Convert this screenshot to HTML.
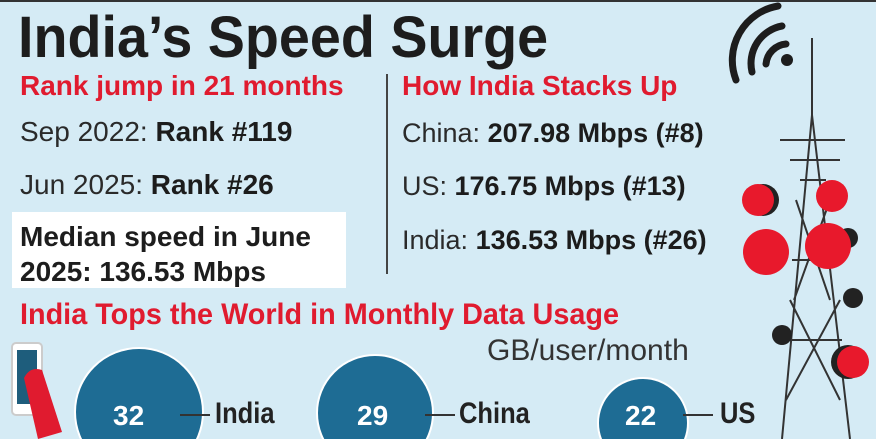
<!DOCTYPE html>
<html><head><meta charset="utf-8"><style>
html,body{margin:0;width:876px;height:439px;overflow:hidden}
body{background:#d5ebf5;font-family:"Liberation Sans",sans-serif}
#w{position:relative;width:876px;height:439px;overflow:hidden}
.a{position:absolute;white-space:nowrap;transform-origin:left top;line-height:1}
.r{color:#e01b2f;font-weight:bold;font-size:28px}
.t{color:#2a2a2a;font-size:27px}
.t b{color:#1c1c1c}
.n{position:absolute;color:#fff;font-weight:bold;font-size:28px}
.lb{position:absolute;color:#222;font-size:30px;font-weight:bold;transform:scaleX(.85);transform-origin:left top}
.dash{position:absolute;height:2px;background:#333}
</style></head><body><div id="w">
<svg style="position:absolute;left:0;top:0" width="876" height="439">
<g fill="#1e6c94" stroke="#fff" stroke-width="2">
<circle cx="139" cy="412" r="64"/>
<circle cx="375" cy="413" r="58"/>
<circle cx="643" cy="423" r="45"/>
</g>
<rect x="12" y="343" width="30" height="72" rx="4" fill="#fff" stroke="#ccc" stroke-width="2"/>
<rect x="17" y="350" width="20" height="54" fill="#1e5d7c"/>
<path d="M24 378 Q30 366 42 370 L62 432 L38 439 Z" fill="#e01b2f"/>
</svg>
<div style="position:absolute;left:0;top:0;width:876px;height:2px;background:#333"></div>
<div class="a" style="left:18px;top:9px;font-size:58px;font-weight:bold;color:#1d1d1d;transform:scaleX(.96)">India’s Speed Surge</div>
<div class="a r" style="left:20px;top:72px">Rank jump in 21 months</div>
<div class="a t" style="left:20px;top:118px;font-size:28px">Sep 2022: <b>Rank #119</b></div>
<div class="a t" style="left:20px;top:171px;font-size:28px">Jun 2025: <b>Rank #26</b></div>
<div style="position:absolute;left:12px;top:212px;width:334px;height:76px;background:#fff"></div>
<div class="a" style="left:20px;top:219px;font-size:28px;font-weight:bold;color:#1d1d1d;line-height:35px">Median speed in June<br>2025: 136.53 Mbps</div>
<div style="position:absolute;left:386px;top:74px;width:2px;height:200px;background:#444"></div>
<div class="a r" style="left:402px;top:72px">How India Stacks Up</div>
<div class="a t" style="left:402px;top:120px">China: <b>207.98 Mbps (#8)</b></div>
<div class="a t" style="left:402px;top:173px">US: <b>176.75 Mbps (#13)</b></div>
<div class="a t" style="left:402px;top:227px">India: <b>136.53 Mbps (#26)</b></div>
<div class="a r" style="left:20px;top:300px;font-size:30px;transform:scaleX(.96)">India Tops the World in Monthly Data Usage</div>
<div class="a" style="left:487px;top:336px;font-size:30px;color:#333">GB/user/month</div>
<div class="n" style="left:113px;top:400px">32</div>
<div class="dash" style="left:180px;top:414px;width:30px"></div>
<div class="lb" style="left:215px;top:397px">India</div>
<div class="n" style="left:357px;top:400px">29</div>
<div class="dash" style="left:425px;top:414px;width:30px"></div>
<div class="lb" style="left:459px;top:397px">China</div>
<div class="n" style="left:625px;top:400px">22</div>
<div class="dash" style="left:683px;top:414px;width:30px"></div>
<div class="lb" style="left:720px;top:397px">US</div>
<svg style="position:absolute;left:700px;top:0" width="176" height="439">
<g fill="none" stroke="#1d1d1d" stroke-width="7" stroke-linecap="round">
<path d="M36 80 A55 55 0 0 1 78 6"/><path d="M52 72 A38 38 0 0 1 82 26"/><path d="M66 64 A22 22 0 0 1 86 44"/></g>
<circle cx="87" cy="60" r="6" fill="#1d1d1d"/>
<g stroke="#333" stroke-width="2" fill="none">
<line x1="112" y1="38" x2="112" y2="115"/>
<path d="M112 115 L82 439 M112 115 L150 439 M100 180 L126 180 M92 260 L134 260 M86 340 L142 340 M96 200 L130 300 M130 200 L94 300 M90 300 L140 400 M140 300 L86 400"/>
<path d="M80 140 L145 140 M90 160 L140 160"/></g>
<circle cx="63" cy="200" r="16" fill="#222"/><circle cx="58" cy="200" r="16" fill="#e8192c"/>
<circle cx="132" cy="196" r="16" fill="#e8192c"/>
<circle cx="66" cy="252" r="23" fill="#e8192c"/>
<circle cx="148" cy="238" r="10" fill="#222"/>
<circle cx="128" cy="246" r="23" fill="#e8192c"/>
<circle cx="153" cy="298" r="10" fill="#222"/>
<circle cx="82" cy="335" r="10" fill="#222"/>
<circle cx="148" cy="362" r="17" fill="#222"/><circle cx="153" cy="362" r="16" fill="#e8192c"/>
</svg>
</div></body></html>
